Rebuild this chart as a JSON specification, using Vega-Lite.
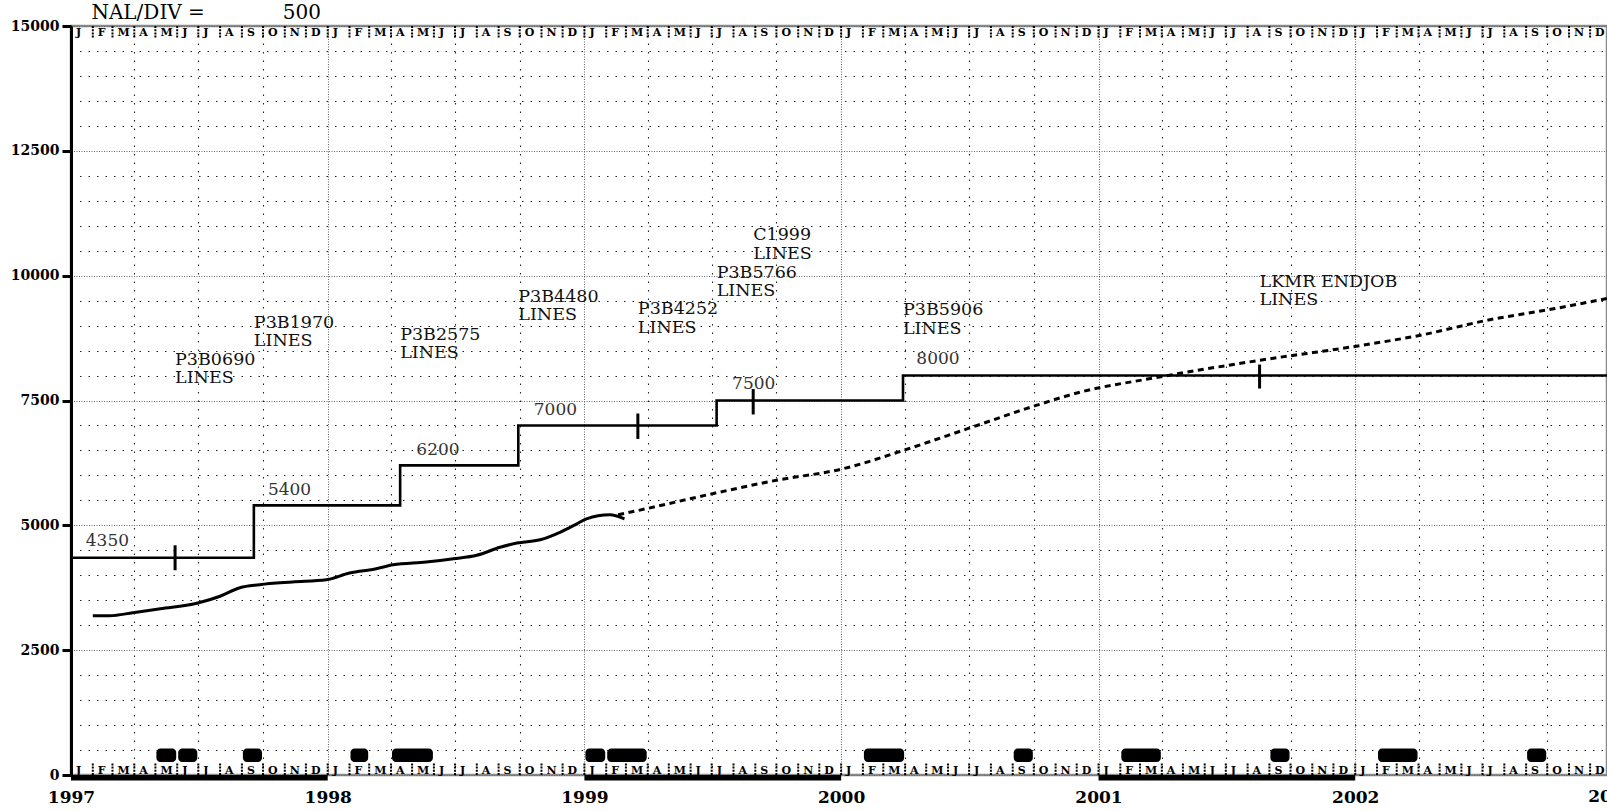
{
  "$schema": "https://vega.github.io/schema/vega-lite/v6.json",
  "width": 1536,
  "height": 749,
  "autosize": {"type": "none"},
  "padding": {"left": 71, "top": 26, "right": 0, "bottom": 36},
  "background": "white",
  "config": {"view": {"stroke": "#8a8a8a", "strokeWidth": 2.5}},
  "datasets": {
    "steps": [
      {"date": "1997-01-01", "value": 4350},
      {"date": "1997-09-18", "value": 5400},
      {"date": "1998-04-14", "value": 6200},
      {"date": "1998-09-29", "value": 7000},
      {"date": "1999-07-08", "value": 7500},
      {"date": "2000-03-29", "value": 8000},
      {"date": "2003-01-01", "value": 8000}
    ],
    "actual": [
      {"date": "1997-02-01", "value": 3190},
      {"date": "1997-02-25", "value": 3190},
      {"date": "1997-03-30", "value": 3250},
      {"date": "1997-05-08", "value": 3330},
      {"date": "1997-06-29", "value": 3440},
      {"date": "1997-08-01", "value": 3580},
      {"date": "1997-08-29", "value": 3750},
      {"date": "1997-09-26", "value": 3810},
      {"date": "1997-11-12", "value": 3865},
      {"date": "1997-12-30", "value": 3910},
      {"date": "1998-02-01", "value": 4045},
      {"date": "1998-03-11", "value": 4130},
      {"date": "1998-04-04", "value": 4210},
      {"date": "1998-05-21", "value": 4265},
      {"date": "1998-06-29", "value": 4330},
      {"date": "1998-08-01", "value": 4400},
      {"date": "1998-09-03", "value": 4560},
      {"date": "1998-09-27", "value": 4645},
      {"date": "1998-10-30", "value": 4710},
      {"date": "1998-11-28", "value": 4865},
      {"date": "1998-12-20", "value": 5020},
      {"date": "1999-01-04", "value": 5130},
      {"date": "1999-02-06", "value": 5210},
      {"date": "1999-02-27", "value": 5130}
    ],
    "forecast": [
      {"date": "1999-02-18", "value": 5212},
      {"date": "1999-03-30", "value": 5333},
      {"date": "1999-07-02", "value": 5633},
      {"date": "1999-10-01", "value": 5902},
      {"date": "2000-01-04", "value": 6134},
      {"date": "2000-03-30", "value": 6503},
      {"date": "2000-06-29", "value": 6936},
      {"date": "2000-10-02", "value": 7391},
      {"date": "2000-12-07", "value": 7671},
      {"date": "2001-03-21", "value": 7952},
      {"date": "2001-08-19", "value": 8307},
      {"date": "2002-01-05", "value": 8593},
      {"date": "2002-04-04", "value": 8808},
      {"date": "2002-07-08", "value": 9108},
      {"date": "2002-10-12", "value": 9341},
      {"date": "2002-12-31", "value": 9560}
    ],
    "events": [
      {"date": "1997-05-29", "lo": 4100, "hi": 4600},
      {"date": "1999-03-18", "lo": 6730, "hi": 7240},
      {"date": "1999-08-29", "lo": 7220, "hi": 7730},
      {"date": "2001-08-18", "lo": 7740, "hi": 8220}
    ],
    "labels": [
      {"date": "1997-05-29", "value": 8220, "t1": "P3B0690", "t2": "LINES"},
      {"date": "1997-09-18", "value": 8955, "t1": "P3B1970", "t2": "LINES"},
      {"date": "1998-04-14", "value": 8720, "t1": "P3B2575", "t2": "LINES"},
      {"date": "1998-09-29", "value": 9478, "t1": "P3B4480", "t2": "LINES"},
      {"date": "1999-03-18", "value": 9224, "t1": "P3B4252", "t2": "LINES"},
      {"date": "1999-07-08", "value": 9960, "t1": "P3B5766", "t2": "LINES"},
      {"date": "1999-08-29", "value": 10710, "t1": "C1999", "t2": "LINES"},
      {"date": "2000-03-29", "value": 9210, "t1": "P3B5906", "t2": "LINES"},
      {"date": "2001-08-18", "value": 9780, "t1": "LKMR ENDJOB", "t2": "LINES"}
    ],
    "stepLabels": [
      {"date": "1997-01-22", "value": 4580, "t": "4350"},
      {"date": "1997-10-08", "value": 5600, "t": "5400"},
      {"date": "1998-05-07", "value": 6415, "t": "6200"},
      {"date": "1998-10-21", "value": 7210, "t": "7000"},
      {"date": "1999-07-30", "value": 7735, "t": "7500"},
      {"date": "2000-04-17", "value": 8230, "t": "8000"}
    ],
    "header": [
      {"date": "1997-01-30", "value": 15146, "t": "NAL/DIV ="},
      {"date": "1997-10-29", "value": 15146, "t": "500"}
    ],
    "extraYear": [
      {"date": "2003-01-01", "value": -541, "t": "2003"}
    ],
    "blocks": [
      {"date": "1997-05-01", "end": "1997-06-01"},
      {"date": "1997-06-01", "end": "1997-07-01"},
      {"date": "1997-09-01", "end": "1997-10-01"},
      {"date": "1998-02-01", "end": "1998-03-01"},
      {"date": "1998-04-01", "end": "1998-06-01"},
      {"date": "1999-01-01", "end": "1999-02-01"},
      {"date": "1999-02-01", "end": "1999-04-01"},
      {"date": "2000-02-01", "end": "2000-04-01"},
      {"date": "2000-09-01", "end": "2000-10-01"},
      {"date": "2001-02-01", "end": "2001-04-01"},
      {"date": "2001-09-01", "end": "2001-10-01"},
      {"date": "2002-02-01", "end": "2002-04-01"},
      {"date": "2002-09-01", "end": "2002-10-01"}
    ],
    "years": [
      {"date": "1997-01-01", "end": "1998-01-01"},
      {"date": "1999-01-01", "end": "2000-01-01"},
      {"date": "2001-01-01", "end": "2002-01-01"}
    ],
    "months": [
      {"date": "1997-01-01", "t": "J"}, {"date": "1997-02-01", "t": "F"}, {"date": "1997-03-01", "t": "M"}, {"date": "1997-04-01", "t": "A"}, {"date": "1997-05-01", "t": "M"}, {"date": "1997-06-01", "t": "J"}, {"date": "1997-07-01", "t": "J"}, {"date": "1997-08-01", "t": "A"}, {"date": "1997-09-01", "t": "S"}, {"date": "1997-10-01", "t": "O"}, {"date": "1997-11-01", "t": "N"}, {"date": "1997-12-01", "t": "D"},
      {"date": "1998-01-01", "t": "J"}, {"date": "1998-02-01", "t": "F"}, {"date": "1998-03-01", "t": "M"}, {"date": "1998-04-01", "t": "A"}, {"date": "1998-05-01", "t": "M"}, {"date": "1998-06-01", "t": "J"}, {"date": "1998-07-01", "t": "J"}, {"date": "1998-08-01", "t": "A"}, {"date": "1998-09-01", "t": "S"}, {"date": "1998-10-01", "t": "O"}, {"date": "1998-11-01", "t": "N"}, {"date": "1998-12-01", "t": "D"},
      {"date": "1999-01-01", "t": "J"}, {"date": "1999-02-01", "t": "F"}, {"date": "1999-03-01", "t": "M"}, {"date": "1999-04-01", "t": "A"}, {"date": "1999-05-01", "t": "M"}, {"date": "1999-06-01", "t": "J"}, {"date": "1999-07-01", "t": "J"}, {"date": "1999-08-01", "t": "A"}, {"date": "1999-09-01", "t": "S"}, {"date": "1999-10-01", "t": "O"}, {"date": "1999-11-01", "t": "N"}, {"date": "1999-12-01", "t": "D"},
      {"date": "2000-01-01", "t": "J"}, {"date": "2000-02-01", "t": "F"}, {"date": "2000-03-01", "t": "M"}, {"date": "2000-04-01", "t": "A"}, {"date": "2000-05-01", "t": "M"}, {"date": "2000-06-01", "t": "J"}, {"date": "2000-07-01", "t": "J"}, {"date": "2000-08-01", "t": "A"}, {"date": "2000-09-01", "t": "S"}, {"date": "2000-10-01", "t": "O"}, {"date": "2000-11-01", "t": "N"}, {"date": "2000-12-01", "t": "D"},
      {"date": "2001-01-01", "t": "J"}, {"date": "2001-02-01", "t": "F"}, {"date": "2001-03-01", "t": "M"}, {"date": "2001-04-01", "t": "A"}, {"date": "2001-05-01", "t": "M"}, {"date": "2001-06-01", "t": "J"}, {"date": "2001-07-01", "t": "J"}, {"date": "2001-08-01", "t": "A"}, {"date": "2001-09-01", "t": "S"}, {"date": "2001-10-01", "t": "O"}, {"date": "2001-11-01", "t": "N"}, {"date": "2001-12-01", "t": "D"},
      {"date": "2002-01-01", "t": "J"}, {"date": "2002-02-01", "t": "F"}, {"date": "2002-03-01", "t": "M"}, {"date": "2002-04-01", "t": "A"}, {"date": "2002-05-01", "t": "M"}, {"date": "2002-06-01", "t": "J"}, {"date": "2002-07-01", "t": "J"}, {"date": "2002-08-01", "t": "A"}, {"date": "2002-09-01", "t": "S"}, {"date": "2002-10-01", "t": "O"}, {"date": "2002-11-01", "t": "N"}, {"date": "2002-12-01", "t": "D"}
    ]
  },
  "encoding": {
    "x": {
      "field": "date",
      "type": "temporal",
      "title": null,
      "scale": {
        "type": "utc",
        "domain": [
          {"year": 1997, "month": 1, "date": 1, "utc": true},
          {"year": 2002, "month": 12, "date": 25, "utc": true}
        ]
      },
      "axis": {
        "values": [
          {"year": 1997, "month": 1, "date": 1, "utc": true}, {"year": 1997, "month": 4, "date": 1, "utc": true}, {"year": 1997, "month": 7, "date": 1, "utc": true}, {"year": 1997, "month": 10, "date": 1, "utc": true},
          {"year": 1998, "month": 1, "date": 1, "utc": true}, {"year": 1998, "month": 4, "date": 1, "utc": true}, {"year": 1998, "month": 7, "date": 1, "utc": true}, {"year": 1998, "month": 10, "date": 1, "utc": true},
          {"year": 1999, "month": 1, "date": 1, "utc": true}, {"year": 1999, "month": 4, "date": 1, "utc": true}, {"year": 1999, "month": 7, "date": 1, "utc": true}, {"year": 1999, "month": 10, "date": 1, "utc": true},
          {"year": 2000, "month": 1, "date": 1, "utc": true}, {"year": 2000, "month": 4, "date": 1, "utc": true}, {"year": 2000, "month": 7, "date": 1, "utc": true}, {"year": 2000, "month": 10, "date": 1, "utc": true},
          {"year": 2001, "month": 1, "date": 1, "utc": true}, {"year": 2001, "month": 4, "date": 1, "utc": true}, {"year": 2001, "month": 7, "date": 1, "utc": true}, {"year": 2001, "month": 10, "date": 1, "utc": true},
          {"year": 2002, "month": 1, "date": 1, "utc": true}, {"year": 2002, "month": 4, "date": 1, "utc": true}, {"year": 2002, "month": 7, "date": 1, "utc": true}, {"year": 2002, "month": 10, "date": 1, "utc": true}
        ],
        "grid": true,
        "ticks": false,
        "tickSize": 0,
        "domain": false,
        "gridColor": {"condition": {"test": "utcmonth(datum.value) === 0", "value": "#666666"}, "value": "#222222"},
        "gridDash": {"condition": {"test": "utcmonth(datum.value) === 0", "value": [1, 1.5]}, "value": [1.5, 7]},
        "gridWidth": 1.1,
        "labelExpr": "utcmonth(datum.value) === 0 ? utcFormat(datum.value, '%Y') : ''",
        "labelFont": "DejaVu Serif",
        "labelFontWeight": "bold",
        "labelFontSize": 17,
        "labelColor": "#000000",
        "labelPadding": 27,
        "labelBaseline": "alphabetic",
        "labelAlign": "center",
        "labelFlush": false,
        "labelOverlap": false,
        "labelBound": false
      }
    },
    "y": {
      "type": "quantitative",
      "title": null,
      "scale": {"domain": [0, 15000], "nice": false, "zero": false},
      "axis": {
        "values": [0, 500, 1000, 1500, 2000, 2500, 3000, 3500, 4000, 4500, 5000, 5500, 6000, 6500, 7000, 7500, 8000, 8500, 9000, 9500, 10000, 10500, 11000, 11500, 12000, 12500, 13000, 13500, 14000, 14500, 15000],
        "format": "d",
        "grid": true,
        "gridColor": {"condition": {"test": "datum.value % 2500 === 0", "value": "#666666"}, "value": "#222222"},
        "gridDash": {"condition": {"test": "datum.value % 2500 === 0", "value": [1, 1.5]}, "value": [1.5, 7]},
        "gridWidth": 1.1,
        "domain": true,
        "domainColor": "#000000",
        "domainWidth": 3,
        "ticks": true,
        "tickColor": "#000000",
        "tickWidth": 3,
        "tickSize": {"condition": {"test": "datum.value % 2500 === 0", "value": 9}, "value": 0},
        "labelExpr": "datum.value % 2500 === 0 ? datum.label : ''",
        "labelFont": "DejaVu Serif",
        "labelFontWeight": "bold",
        "labelFontSize": 14,
        "labelColor": "#000000",
        "labelPadding": 3,
        "labelOverlap": false,
        "labelBound": false,
        "labelFlush": false
      }
    }
  },
  "layer": [
    {
      "data": {"name": "years"},
      "mark": {"type": "rect", "color": "#000000"},
      "encoding": {"x2": {"field": "end"}, "y": {"datum": 0}, "y2": {"datum": -110}}
    },
    {
      "data": {"name": "blocks"},
      "mark": {"type": "rect", "color": "#000000", "cornerRadius": 4, "xOffset": 1, "x2Offset": -1},
      "encoding": {"x2": {"field": "end"}, "y": {"datum": 260}, "y2": {"datum": 530}}
    },
    {
      "data": {"name": "months"},
      "mark": {"type": "rule", "color": "#000000", "strokeWidth": 2, "strokeDash": [2, 1.2]},
      "encoding": {"y": {"datum": 0}, "y2": {"datum": 250}}
    },
    {
      "data": {"name": "months"},
      "mark": {"type": "rule", "color": "#000000", "strokeWidth": 2, "strokeDash": [2, 1.2]},
      "encoding": {"y": {"datum": 15000}, "y2": {"datum": 14750}}
    },
    {
      "data": {"name": "months"},
      "mark": {"type": "text", "font": "DejaVu Serif", "fontWeight": "bold", "fontSize": 11, "align": "left", "baseline": "alphabetic", "dx": 5, "color": "#000000"},
      "encoding": {"y": {"datum": 30}, "text": {"field": "t"}}
    },
    {
      "data": {"name": "months"},
      "mark": {"type": "text", "font": "DejaVu Serif", "fontWeight": "bold", "fontSize": 11, "align": "left", "baseline": "alphabetic", "dx": 5, "color": "#000000"},
      "encoding": {"y": {"datum": 14800}, "text": {"field": "t"}}
    },
    {
      "data": {"name": "steps"},
      "mark": {"type": "line", "interpolate": "step-after", "color": "#000000", "strokeWidth": 2.6},
      "encoding": {"y": {"field": "value"}}
    },
    {
      "data": {"name": "actual"},
      "mark": {"type": "line", "interpolate": "monotone", "color": "#000000", "strokeWidth": 3},
      "encoding": {"y": {"field": "value"}}
    },
    {
      "data": {"name": "forecast"},
      "mark": {"type": "line", "interpolate": "monotone", "color": "#000000", "strokeWidth": 3, "strokeDash": [6, 4.5]},
      "encoding": {"y": {"field": "value"}}
    },
    {
      "data": {"name": "events"},
      "mark": {"type": "rule", "color": "#000000", "strokeWidth": 3},
      "encoding": {"y": {"field": "lo"}, "y2": {"field": "hi"}}
    },
    {
      "data": {"name": "labels"},
      "mark": {"type": "text", "font": "DejaVu Serif", "fontSize": 17.5, "align": "left", "baseline": "alphabetic", "color": "#111111"},
      "encoding": {"y": {"field": "value"}, "text": {"field": "t1"}}
    },
    {
      "data": {"name": "labels"},
      "mark": {"type": "text", "font": "DejaVu Serif", "fontSize": 17.5, "align": "left", "baseline": "alphabetic", "dy": 18.5, "color": "#111111"},
      "encoding": {"y": {"field": "value"}, "text": {"field": "t2"}}
    },
    {
      "data": {"name": "stepLabels"},
      "mark": {"type": "text", "font": "DejaVu Serif", "fontSize": 17, "align": "left", "baseline": "alphabetic", "color": "#333333"},
      "encoding": {"y": {"field": "value"}, "text": {"field": "t"}}
    },
    {
      "data": {"name": "header"},
      "mark": {"type": "text", "font": "DejaVu Serif", "fontSize": 20, "align": "left", "baseline": "alphabetic", "color": "#000000"},
      "encoding": {"y": {"field": "value"}, "text": {"field": "t"}}
    },
    {
      "data": {"name": "extraYear"},
      "mark": {"type": "text", "font": "DejaVu Serif", "fontWeight": "bold", "fontSize": 17, "align": "center", "baseline": "alphabetic", "color": "#000000"},
      "encoding": {"y": {"field": "value"}, "text": {"field": "t"}}
    }
  ]
}
